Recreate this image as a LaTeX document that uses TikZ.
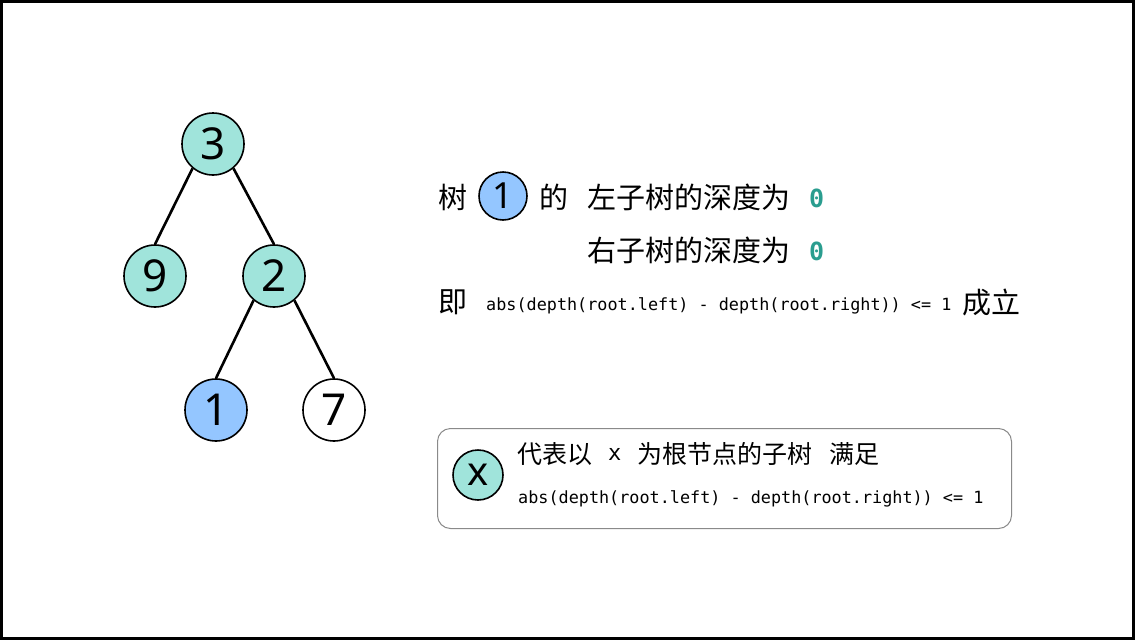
\documentclass[tikz,border=0pt]{standalone}
\usepackage{fontspec}
\setmainfont{Noto Sans}
\setmonofont{DejaVu Sans Mono}
\newfontfamily\cjk{Noto Sans CJK SC}
\definecolor{trteal}{HTML}{A0E4DB}
\definecolor{trblue}{HTML}{94C6FF}
\definecolor{trzero}{HTML}{2A9D8F}
\definecolor{trgray}{HTML}{8A8A8A}
\usetikzlibrary{positioning}

\begin{document}
\begin{tikzpicture}[x=1pt, y=-1pt,
    vtx/.style={circle, draw=black, line width=1.6pt, minimum size=62pt, inner sep=0pt, font=\fontsize{44}{44}\selectfont},
    mark1/.style={circle, draw=black, line width=1.6pt, minimum size=48pt, inner sep=0pt, font=\fontsize{36}{36}\selectfont},
    cn/.style={font=\cjk\fontsize{29}{29}\selectfont, inner sep=0pt, anchor=west},
    code/.style={font=\ttfamily\fontsize{16.8}{17}\selectfont, inner sep=0pt, anchor=west},
    zero/.style={font=\ttfamily\bfseries\fontsize{25}{25}\selectfont, text=trzero, inner sep=0pt, anchor=west},
    edge/.style={line width=2.6pt}]
  \useasboundingbox (0,0) rectangle (1135,640);
  \draw[line width=3pt] (1.5,1.5) rectangle (1133.5,638.5);
  % tree
  \node[vtx, fill=trteal] (n3) at (213,144) {3};
  \node[vtx, fill=trteal] (n9) at (155,276) {9};
  \node[vtx, fill=trteal] (n2) at (274,276) {2};
  \node[vtx, fill=trblue] (n1) at (216,410) {1};
  \node[vtx, fill=white] (n7) at (334,410) {7};
  \draw[edge] (n3.230) -- (n9.north);
  \draw[edge] (n3.310) -- (n2.north);
  \draw[edge] (n2.230) -- (n1.north);
  \draw[edge] (n2.310) -- (n7.north);
  % explanation
  \node[cn] (shu) at (438,197) {树};
  \node[mark1, fill=trblue] (m1) at (503,196) {1};
  \node[cn] (de) at (539,197) {的};
  \node[cn] (left) at (587,197) {左子树的深度为};
  \node[zero] (z1) at (809,198) {0};
  \node[cn] (right) at (587,250) {右子树的深度为};
  \node[zero] (z2) at (809,251) {0};
  \node[cn] (ji) at (438,302) {即};
  \node[code] (cond) at (486,306) {abs(depth(root.left) - depth(root.right)) <= 1};
  \node[cn] (ok) at (962,302) {成立};
  % legend
  \draw[trgray, line width=1pt, rounded corners=13pt] (437.5,428.5) rectangle (1011.5,528.5);
  \node[mark1, fill=trteal, minimum size=50pt, font=\fontsize{40}{40}\selectfont] (mx) at (478,475) {x};
  \node[cn, font=\cjk\fontsize{25}{25}\selectfont] (lg1) at (517,454) {代表以};
  \node[code, font=\ttfamily\fontsize{22}{22}\selectfont] (lgx) at (608,454) {x};
  \node[cn, font=\cjk\fontsize{25}{25}\selectfont] (lg2) at (637,454) {为根节点的子树};
  \node[cn, font=\cjk\fontsize{25}{25}\selectfont] (lg3) at (829,454) {满足};
  \node[code] (lgc) at (518,499) {abs(depth(root.left) - depth(root.right)) <= 1};
\end{tikzpicture}
\end{document}
